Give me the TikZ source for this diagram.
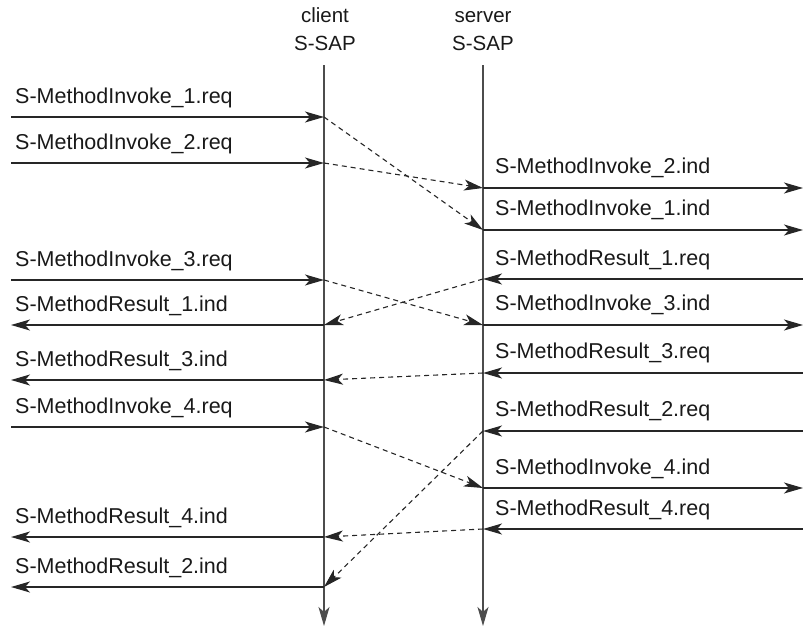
\documentclass[tikz,border=0pt]{standalone}
\usepackage{fontspec}
\setmainfont{Liberation Sans}
\usetikzlibrary{arrows.meta}
\begin{document}
\begin{tikzpicture}[x=1pt,y=-1pt,
  lbl/.style={anchor=base west,inner sep=0pt,font=\fontsize{21.5}{25}\selectfont,text=black!90},
  hdr/.style={anchor=base,inner sep=0pt,font=\fontsize{20.5}{25}\selectfont,text=black!90},
  tip/.style={-{Stealth[length=19pt,width=11pt,inset=5pt]}},
  msg/.style={tip,line width=1.3pt,draw=black!85},
  life/.style={tip,line width=1.3pt,draw=black!70},
  xfer/.style={tip,line width=1.1pt,draw=black!85,dash pattern=on 5pt off 4pt}]
\useasboundingbox (0,0) rectangle (803,629);
% headers
\node[hdr] (hc1) at (325,23) {client};
\node[hdr] (hc2) at (325,50) {S-SAP};
\node[hdr] (hs1) at (483,23) {server};
\node[hdr] (hs2) at (483,50) {S-SAP};
% lifelines
\coordinate (ctop) at (324,65);
\coordinate (cbot) at (324,626);
\coordinate (stop) at (483,65);
\coordinate (sbot) at (483,626);
\draw[life] (ctop) -- (cbot);
\draw[life] (stop) -- (sbot);
% client side points
\foreach \n/\y in {i1/117,i2/163,i3/280,r1/325,r3/380,i4/427,r4/537,r2/587}{
  \coordinate (cL\n) at (11,\y);
  \coordinate (c\n) at (324,\y);
}
% server side points
\foreach \n/\y in {i2/188,i1/230,r1/279,i3/325,r3/373,r2/431,i4/488,r4/529}{
  \coordinate (sR\n) at (803,\y);
  \coordinate (s\n) at (483,\y);
}
% client messages
\draw[msg] (cLi1) -- (ci1);
\node[lbl] (li1) at (15,103) {S-MethodInvoke\_1.req};
\draw[msg] (cLi2) -- (ci2);
\node[lbl] (li2) at (15,149) {S-MethodInvoke\_2.req};
\draw[msg] (cLi3) -- (ci3);
\node[lbl] (li3) at (15,266) {S-MethodInvoke\_3.req};
\draw[msg] (cr1) -- (cLr1);
\node[lbl] (lr1) at (15,311) {S-MethodResult\_1.ind};
\draw[msg] (cr3) -- (cLr3);
\node[lbl] (lr3) at (15,366) {S-MethodResult\_3.ind};
\draw[msg] (cLi4) -- (ci4);
\node[lbl] (li4) at (15,413) {S-MethodInvoke\_4.req};
\draw[msg] (cr4) -- (cLr4);
\node[lbl] (lr4) at (15,523) {S-MethodResult\_4.ind};
\draw[msg] (cr2) -- (cLr2);
\node[lbl] (lr2) at (15,573) {S-MethodResult\_2.ind};
% server messages
\draw[msg] (si2) -- (sRi2);
\node[lbl] (mi2) at (495,173) {S-MethodInvoke\_2.ind};
\draw[msg] (si1) -- (sRi1);
\node[lbl] (mi1) at (495,215) {S-MethodInvoke\_1.ind};
\draw[msg] (sRr1) -- (sr1);
\node[lbl] (mr1) at (495,265) {S-MethodResult\_1.req};
\draw[msg] (si3) -- (sRi3);
\node[lbl] (mi3) at (495,310) {S-MethodInvoke\_3.ind};
\draw[msg] (sRr3) -- (sr3);
\node[lbl] (mr3) at (495,358) {S-MethodResult\_3.req};
\draw[msg] (sRr2) -- (sr2);
\node[lbl] (mr2) at (495,416) {S-MethodResult\_2.req};
\draw[msg] (si4) -- (sRi4);
\node[lbl] (mi4) at (495,474) {S-MethodInvoke\_4.ind};
\draw[msg] (sRr4) -- (sr4);
\node[lbl] (mr4) at (495,515) {S-MethodResult\_4.req};
% transfers
\draw[xfer] (ci1) -- (si1);
\draw[xfer] (ci2) -- (si2);
\draw[xfer] (ci3) -- (si3);
\draw[xfer] (sr1) -- (cr1);
\draw[xfer] (sr3) -- (cr3);
\draw[xfer] (ci4) -- (si4);
\draw[xfer] (sr2) -- (cr2);
\draw[xfer] (sr4) -- (cr4);
\end{tikzpicture}
\end{document}
